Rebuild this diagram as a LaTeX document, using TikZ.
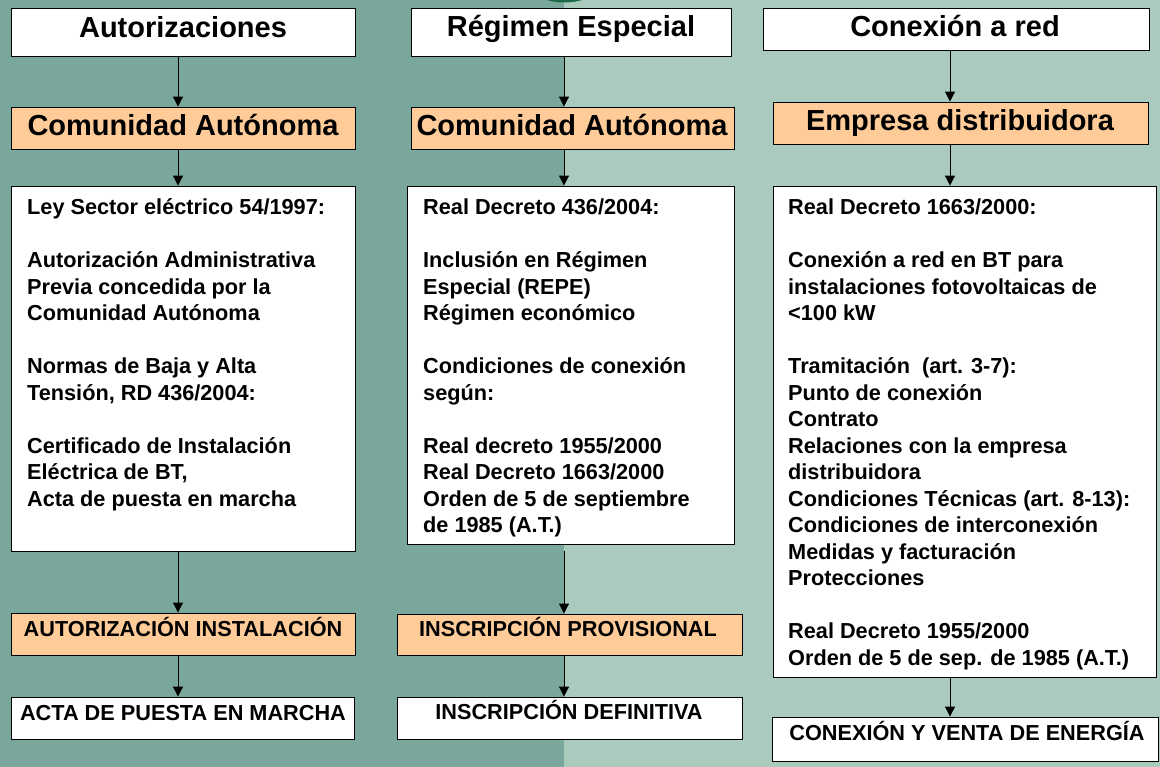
\documentclass[tikz,border=0pt]{standalone}
\usepackage{fontspec}
\setmainfont{Liberation Sans}
\usetikzlibrary{arrows.meta,fit}
\definecolor{bgleft}{HTML}{7AA79B}
\definecolor{bgright}{HTML}{AACABD}
\definecolor{peach}{HTML}{FFCC99}
\definecolor{arcgreen}{HTML}{1E6B4B}
\tikzset{
  wbox/.style={draw=black, line width=0.9pt, fill=white, inner sep=0pt},
  obox/.style={draw=black, line width=0.9pt, fill=peach, inner sep=0pt},
  titletxt/.style={anchor=base, inner sep=0pt, font=\bfseries\fontsize{29}{34}\selectfont},
  captxt/.style={anchor=base, inner sep=0pt, font=\bfseries\fontsize{21.7}{26.5}\selectfont},
  bodytxt/.style={anchor=base west, inner sep=0pt, font=\bfseries\fontsize{21.7}{26.5}\selectfont},
  arr/.style={draw=black, line width=1pt, -{Triangle[width=10pt,length=10pt]}}
}
\begin{document}
\begin{tikzpicture}[x=1pt,y=-1pt]
\clip (0,0) rectangle (1160,767);
\fill[bgleft] (0,0) rectangle (564,767);
\fill[bgright] (564,0) rectangle (1160,767);
\fill[arcgreen] (564.5,-59.5) circle (62);
% column coordinates
\coordinate (ax1) at (178,0);
\coordinate (ax2) at (564,0);
\coordinate (ax3) at (950,0);
% boxes
\node[wbox, fit={(11,8) (355,56)}] (t1) {};
\node[wbox, fit={(411,8) (731,56)}] (t2) {};
\node[wbox, fit={(763,8) (1149,50)}] (t3) {};
\node[obox, fit={(11,107) (355,149)}] (o1) {};
\node[obox, fit={(411,107) (734,149)}] (o2) {};
\node[obox, fit={(773,102) (1148,144)}] (o3) {};
\node[wbox, fit={(11,186) (355,551)}] (b1) {};
\node[wbox, fit={(407,186) (734,544)}] (b2) {};
\node[wbox, fit={(773,186) (1156,677)}] (b3) {};
\node[obox, fit={(11,613) (355,655)}] (p1) {};
\node[obox, fit={(397,614) (742,655)}] (p2) {};
\node[wbox, fit={(11,697) (354,739)}] (f1) {};
\node[wbox, fit={(397,697) (742,739)}] (f2) {};
\node[wbox, fit={(772,717) (1158,761)}] (f3) {};
% texts
\node[titletxt] (t1l) at (183,38) {Autorizaciones};
\node[titletxt] (t2l) at (571,37) {Régimen Especial};
\node[titletxt] (t3l) at (955,37) {Conexión a red};
\node[titletxt] (o1l) at (183,136) {Comunidad Autónoma};
\node[titletxt] (o2l) at (572,136) {Comunidad Autónoma};
\node[titletxt] (o3l) at (960,131) {Empresa distribuidora};
\node[captxt] (p1l) at (183,636) {AUTORIZACIÓN INSTALACIÓN};
\node[captxt] (p2l) at (568,636) {INSCRIPCIÓN PROVISIONAL};
\node[captxt] (f1l) at (183,720) {ACTA DE PUESTA EN MARCHA};
\node[captxt] (f2l) at (569,719) {INSCRIPCIÓN DEFINITIVA};
\node[captxt] (f3l) at (967,740) {CONEXIÓN Y VENTA DE ENERGÍA};
\node[bodytxt] (b1l) at (27,215) {\parbox[t]{320pt}{\raggedright
Ley Sector eléctrico 54/1997:\\[26.5pt]
Autorización Administrativa\\
Previa concedida por la\\
Comunidad Autónoma\\[26.5pt]
Normas de Baja y Alta\\
Tensión, RD 436/2004:\\[26.5pt]
Certificado de Instalación\\
Eléctrica de BT,\\
Acta de puesta en marcha}};
\node[bodytxt] (b2l) at (423,215) {\parbox[t]{305pt}{\raggedright
Real Decreto 436/2004:\\[26.5pt]
Inclusión en Régimen\\
Especial (REPE)\\
Régimen económico\\[26.5pt]
Condiciones de conexión\\
según:\\[26.5pt]
Real decreto 1955/2000\\
Real Decreto 1663/2000\\
Orden de 5 de septiembre\\
de 1985 (A.T.)}};
\node[bodytxt] (b3l) at (788,215) {\parbox[t]{365pt}{\raggedright
Real Decreto 1663/2000:\\[26.5pt]
Conexión a red en BT para\\
instalaciones fotovoltaicas de\\
<100 kW\\[26.5pt]
Tramitación~ (art. 3-7):\\
Punto de conexión\\
Contrato\\
Relaciones con la empresa\\
distribuidora\\
Condiciones Técnicas (art. 8-13):\\
Condiciones de interconexión\\
Medidas y facturación\\
Protecciones\\[26.5pt]
Real Decreto 1955/2000\\
Orden de 5 de sep. de 1985 (A.T.)}};
% arrows
\draw[arr] (t1.south -| ax1) -- (o1.north -| ax1);
\draw[arr] (o1.south -| ax1) -- (b1.north -| ax1);
\draw[arr] (b1.south -| ax1) -- (p1.north -| ax1);
\draw[arr] (p1.south -| ax1) -- (f1.north -| ax1);
\draw[arr] (t2.south -| ax2) -- (o2.north -| ax2);
\draw[arr] (o2.south -| ax2) -- (b2.north -| ax2);
\draw[arr, shorten <=7pt] (b2.south -| ax2) -- (p2.north -| ax2);
\draw[arr] (p2.south -| ax2) -- (f2.north -| ax2);
\draw[arr] (t3.south -| ax3) -- (o3.north -| ax3);
\draw[arr] (o3.south -| ax3) -- (b3.north -| ax3);
\draw[arr] (b3.south -| ax3) -- (f3.north -| ax3);
\end{tikzpicture}
\end{document}
